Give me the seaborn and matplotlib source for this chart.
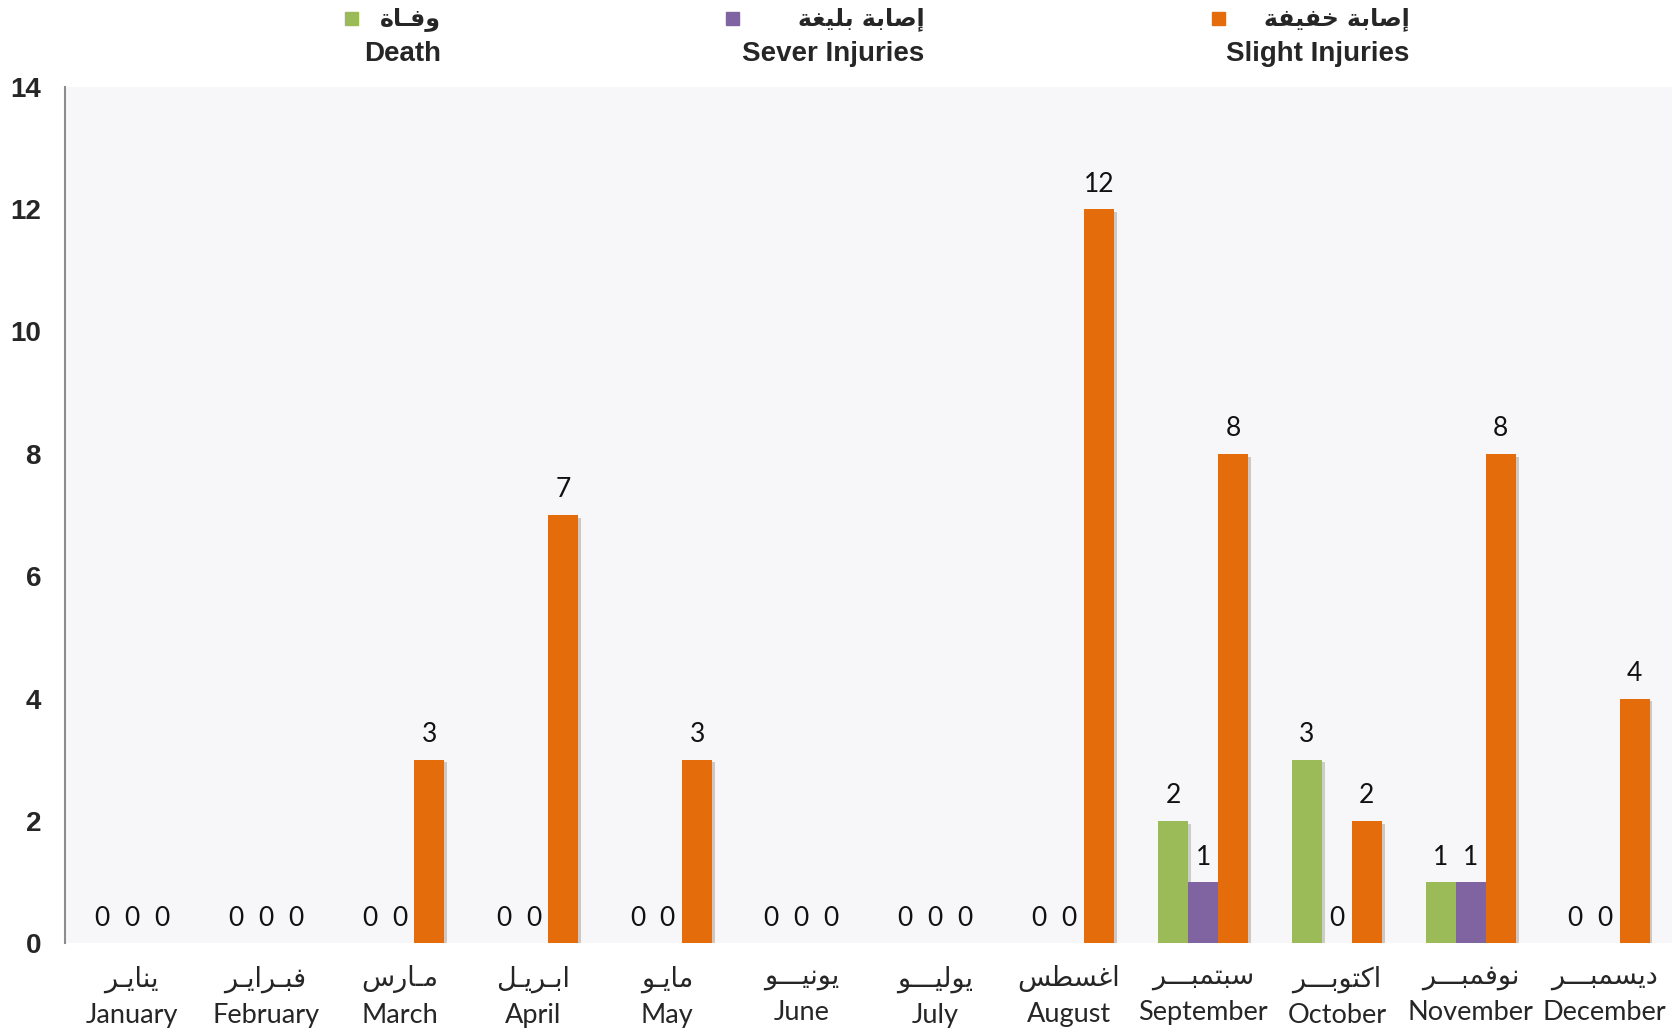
import matplotlib
matplotlib.use("Agg")
import pandas as pd
import seaborn as sns
import matplotlib.pyplot as plt
import matplotlib.patheffects as pe
from matplotlib.patches import Rectangle

# Data
months_en = ["January", "February", "March", "April", "May", "June",
             "July", "August", "September", "October", "November", "December"]
months_ar = ["ينايـر", "فبـرايـر", "مـارس", "ابـريـل", "مايـو", "يونيـــو",
             "يوليـــو", "اغسطس", "سبتمبـــر", "اكتوبـــر", "نوفمبـــر", "ديسمبـــر"]
death = [0, 0, 0, 0, 0, 0, 0, 0, 2, 3, 1, 0]
severe = [0, 0, 0, 0, 0, 0, 0, 0, 1, 0, 1, 0]
slight = [0, 0, 3, 7, 3, 0, 0, 12, 8, 2, 8, 4]

series_en = ["Death", "Sever Injuries", "Slight Injuries"]
series_ar = ["وفـاة", "إصابة بليغة", "إصابة خفيفة"]
colors = ["#9BBB59", "#8064A2", "#E46C0A"]

# Arabic presentation forms: (isolated, final, initial, medial)
AR_FORMS = {
    "ا": ("\uFE8D", "\uFE8E", None, None),
    "إ": ("\uFE87", "\uFE88", None, None),
    "ب": ("\uFE8F", "\uFE90", "\uFE91", "\uFE92"),
    "ة": ("\uFE93", "\uFE94", None, None),
    "ت": ("\uFE95", "\uFE96", "\uFE97", "\uFE98"),
    "خ": ("\uFEA5", "\uFEA6", "\uFEA7", "\uFEA8"),
    "د": ("\uFEA9", "\uFEAA", None, None),
    "ر": ("\uFEAD", "\uFEAE", None, None),
    "س": ("\uFEB1", "\uFEB2", "\uFEB3", "\uFEB4"),
    "ص": ("\uFEB9", "\uFEBA", "\uFEBB", "\uFEBC"),
    "ط": ("\uFEC1", "\uFEC2", "\uFEC3", "\uFEC4"),
    "غ": ("\uFECD", "\uFECE", "\uFECF", "\uFED0"),
    "ف": ("\uFED1", "\uFED2", "\uFED3", "\uFED4"),
    "ك": ("\uFED9", "\uFEDA", "\uFEDB", "\uFEDC"),
    "ل": ("\uFEDD", "\uFEDE", "\uFEDF", "\uFEE0"),
    "م": ("\uFEE1", "\uFEE2", "\uFEE3", "\uFEE4"),
    "ن": ("\uFEE5", "\uFEE6", "\uFEE7", "\uFEE8"),
    "و": ("\uFEED", "\uFEEE", None, None),
    "ي": ("\uFEF1", "\uFEF2", "\uFEF3", "\uFEF4"),
    "\u0640": ("\u0640", "\u0640", "\u0640", "\u0640"),
}


def shape_ar(text):
    """Joins arabic letters and puts them in visual order (matplotlib has no shaping)."""
    out = []
    for i, ch in enumerate(text):
        forms = AR_FORMS.get(ch)
        if forms is None:
            out.append(ch)
            continue
        prev = text[i - 1] if i > 0 else ""
        nxt = text[i + 1] if i + 1 < len(text) else ""
        join_prev = prev in AR_FORMS and AR_FORMS[prev][2] is not None
        join_next = forms[2] is not None and nxt in AR_FORMS
        if join_prev and join_next:
            out.append(forms[3])
        elif join_prev:
            out.append(forms[1])
        elif join_next:
            out.append(forms[2])
        else:
            out.append(forms[0])
    return "".join(reversed(out))


rows = []
for name, vals in zip(series_en, [death, severe, slight]):
    for m, v in zip(months_en, vals):
        rows.append({"Month": m, "Type": name, "Count": v})
df = pd.DataFrame(rows)

sns.set_theme(style="white")
plt.rcParams["font.family"] = ["Lato", "DejaVu Sans"]

fig = plt.figure(figsize=(16.81, 10.32), dpi=100)
ax = fig.add_axes([0.0385, 0.086, 0.956, 0.830])
ax.set_facecolor("#F7F7F9")

sns.barplot(data=df, x="Month", y="Count", hue="Type", order=months_en,
            hue_order=series_en, palette=dict(zip(series_en, colors)),
            width=0.67, gap=0, saturation=1, errorbar=None, legend=False,
            linewidth=0, ax=ax)

for p in ax.patches:
    p.set_path_effects([pe.SimplePatchShadow(offset=(2, -2), alpha=0.22), pe.Normal()])

for cont in ax.containers:
    ax.bar_label(cont, fmt="%d", padding=9, fontsize=19, color="#111111")

ax.set_ylim(0, 14)
ax.set_yticks(range(0, 15, 2))
ax.set_yticklabels([str(v) for v in range(0, 15, 2)], fontsize=20,
                   fontweight="bold", family=["Liberation Sans", "DejaVu Sans"])
ax.tick_params(axis="y", length=0, pad=17)
ax.set_xticks(range(len(months_en)))
ax.set_xticklabels([f"{shape_ar(a)}\n{e}" for a, e in zip(months_ar, months_en)],
                   fontsize=19.5, linespacing=1.5)
ax.tick_params(axis="x", length=0, pad=16)
ax.set_xlabel("")
ax.set_ylabel("")

for s in ["top", "right", "bottom"]:
    ax.spines[s].set_visible(False)
ax.spines["left"].set_color("#8C8C8C")
ax.spines["left"].set_linewidth(1.5)

# legend drawn by hand: marker top-left, two-line label right aligned
marker_x = [0.209, 0.436, 0.725]
text_x = [0.2625, 0.5500, 0.8385]
for mx, tx, en, ar, c in zip(marker_x, text_x, series_en, series_ar, colors):
    fig.add_artist(Rectangle((mx - 0.0039, 0.982 - 0.0063), 0.0078, 0.0126,
                             transform=fig.transFigure, color=c))
    fig.text(tx, 0.982, shape_ar(ar), ha="right", va="center", fontsize=17,
             fontweight="bold", family=["DejaVu Sans"])
    fig.text(tx, 0.948, en, ha="right", va="center", fontsize=20,
             fontweight="bold", family=["Liberation Sans Narrow", "Liberation Sans"])

fig.savefig("out.png", dpi=100)
